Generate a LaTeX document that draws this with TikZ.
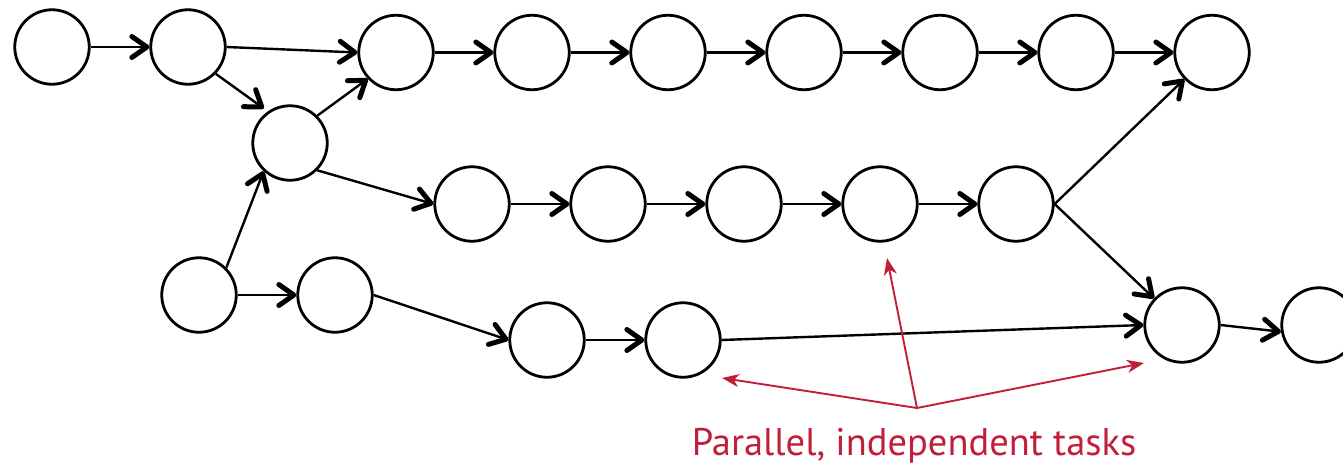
\documentclass[tikz,border=0pt]{standalone}
\usepackage{fontspec}
\setmainfont{PT Sans}
\usetikzlibrary{arrows.meta}
\definecolor{notered}{RGB}{193,30,58}
\tikzset{
  task/.style={circle, draw=black, line width=2.8pt, minimum size=74.5pt, inner sep=0pt, fill=white},
  dep/.style={line width=2.4pt, -{Straight Barb[length=15pt,width=21pt,line width'=5pt,round]}},
  callout/.style={draw=notered, line width=1.9pt, -{Stealth[length=17pt,width=13pt,inset=5pt]}},
}
\begin{document}
\begin{tikzpicture}[x=1pt, y=-1pt]
\useasboundingbox (0,0) rectangle (1343,463);

% top chain
\node[task] (n1) at (52,47) {};
\node[task] (n2) at (188,47) {};
\node[task] (n3) at (396,52.5) {};
\node[task] (n4) at (532,52.5) {};
\node[task] (n5) at (668,52.5) {};
\node[task] (n6) at (804,52.5) {};
\node[task] (n7) at (940,52.5) {};
\node[task] (n8) at (1076,52.5) {};
\node[task] (n9) at (1212,52.5) {};

% branching task
\node[task] (m) at (290,143) {};

% middle chain
\node[task] (r2a) at (472,204) {};
\node[task] (r2b) at (608,204) {};
\node[task] (r2c) at (744,204) {};
\node[task] (r2d) at (880,204) {};
\node[task] (r2e) at (1016,204) {};

% lower chain
\node[task] (b1) at (199,295) {};
\node[task] (b2) at (335,295) {};
\node[task] (c1) at (547,340) {};
\node[task] (c2) at (683,340) {};

% join and final task
\node[task] (j) at (1182,325) {};
\node[task] (fin) at (1319,325) {};

% dependencies
\draw[dep] (n1.east) -- (n2.west);
\draw[dep] (n2.east) -- (n3.west);
\draw[dep, shorten >=5pt] (n2.316) -- (m.125);
\draw[dep] (m.45) -- (n3.223);
\draw[dep] (n3.east) -- (n4.west);
\draw[dep] (n4.east) -- (n5.west);
\draw[dep] (n5.east) -- (n6.west);
\draw[dep] (n6.east) -- (n7.west);
\draw[dep] (n7.east) -- (n8.west);
\draw[dep] (n8.east) -- (n9.west);

\draw[dep] (m.315) -- (r2a.west);
\draw[dep] (r2a.east) -- (r2b.west);
\draw[dep] (r2b.east) -- (r2c.west);
\draw[dep] (r2c.east) -- (r2d.west);
\draw[dep] (r2d.east) -- (r2e.west);
\draw[dep] (r2e.east) -- (n9);
\draw[dep] (r2e.east) -- (j);

\draw[dep] (b1.45) -- (m.227);
\draw[dep] (b1.east) -- (b2.west);
\draw[dep] (b2.east) -- (c1.west);
\draw[dep] (c1.east) -- (c2.west);
\draw[dep] (c2.east) -- (j.west);
\draw[dep] (j.east) -- (fin.190);

% annotation
\node[text=notered, font=\fontsize{38.5}{42}\selectfont, anchor=base, inner sep=0pt] (lbl) at (914,455) {Parallel, independent tasks};
\coordinate (hub) at (917,408);
\coordinate (pUp) at (887,258);
\coordinate (pLeft) at (722,378);
\coordinate (pRight) at (1144,363);
\draw[callout] (hub) -- (pUp);
\draw[callout] (hub) -- (pLeft);
\draw[callout] (hub) -- (pRight);
\end{tikzpicture}
\end{document}
